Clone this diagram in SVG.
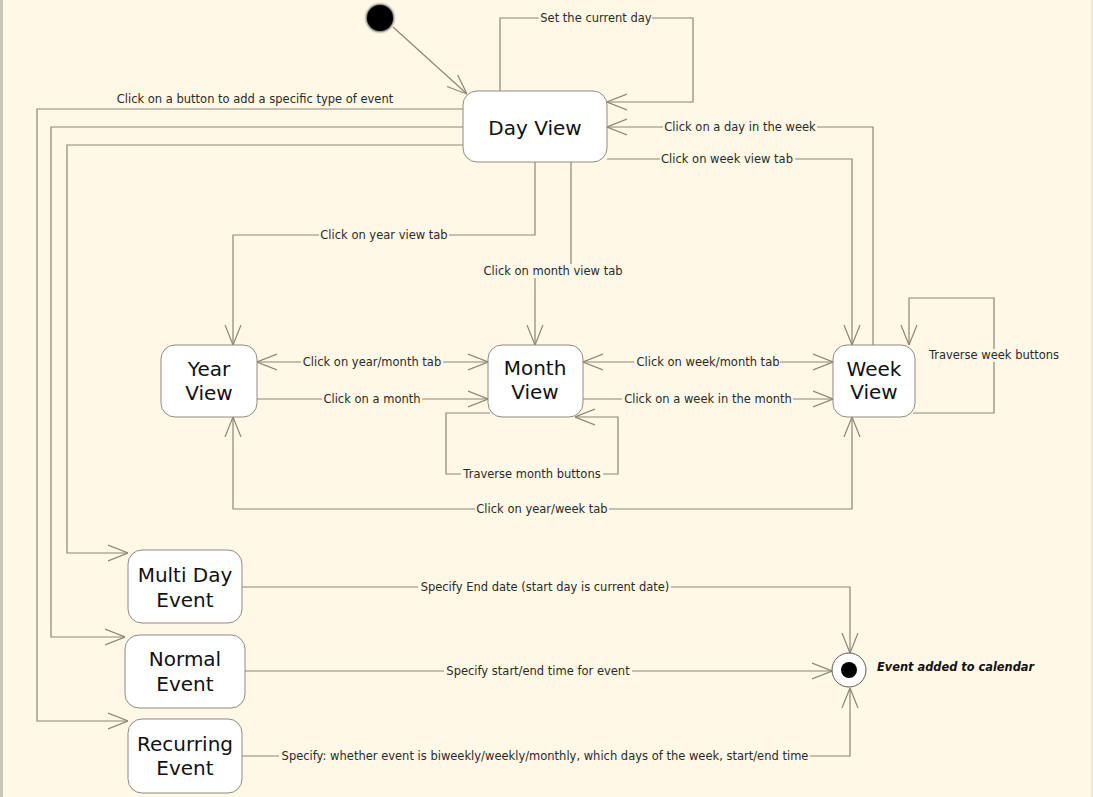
<svg xmlns="http://www.w3.org/2000/svg" width="1093" height="797" viewBox="0 0 1093 797">
<style>
.bg{fill:#FFF8E6}
.node rect{fill:#FFFFFF;stroke:#8E8A80;stroke-width:1}
.ntext{font-family:"DejaVu Sans",Verdana,sans-serif;font-size:20px;fill:#111;text-anchor:middle}
.edge{fill:none;stroke:#8E8675;stroke-width:1.2}
.lb{fill:#FFF8E6}
.lbl{font-family:"DejaVu Sans",Verdana,sans-serif;font-size:11.5px;fill:#2a2a2a;text-anchor:middle}
.final{font-family:"DejaVu Sans",Verdana,sans-serif;font-size:11.4px;font-weight:bold;font-style:italic;fill:#111}
</style>
<defs>
<marker id="arr" viewBox="0 0 20 20" refX="20" refY="10" markerWidth="20" markerHeight="20" markerUnits="userSpaceOnUse" orient="auto-start-reverse">
<path d="M0,2 L20,10 L0,18" fill="none" stroke="#8E8675" stroke-width="1.2"/>
</marker>
<filter id="blur" x="-50%" y="-50%" width="200%" height="200%"><feGaussianBlur stdDeviation="1.2"/></filter>
</defs>
<rect class="bg" x="0" y="0" width="1093" height="797"/>
<rect x="0" y="0" width="3" height="797" fill="#C9C7B8"/>
<rect x="1091" y="0" width="2" height="797" fill="#ECE8DA"/>

<g id="connectors">
<path class="edge" d="M393,27 L467,94" marker-end="url(#arr)"/>
<path class="edge" d="M500,91 L500,18 L693,18 L693,102 L607,102" marker-end="url(#arr)"/>
<rect class="lb" x="539" y="12" width="113" height="13"/>
<text class="lbl" x="596" y="22">Set the current day</text>
<path class="edge" d="M463,109 L37,109 L37,721 L128,721" marker-end="url(#arr)"/>
<text class="lbl" x="255" y="103">Click on a button to add a specific type of event</text>
<path class="edge" d="M463,127 L51,127 L51,637 L125,637" marker-end="url(#arr)"/>
<path class="edge" d="M463,145 L67,145 L67,553 L128,553" marker-end="url(#arr)"/>
<path class="edge" d="M873,345 L873,127 L607,127" marker-end="url(#arr)"/>
<rect class="lb" x="663" y="121" width="154" height="13"/>
<text class="lbl" x="740" y="131">Click on a day in the week</text>
<path class="edge" d="M607,159 L852,159 L852,345" marker-end="url(#arr)"/>
<rect class="lb" x="660" y="153" width="135" height="13"/>
<text class="lbl" x="727" y="163">Click on week view tab</text>
<path class="edge" d="M535,162 L535,235 L233,235 L233,345" marker-end="url(#arr)"/>
<rect class="lb" x="319" y="229" width="130" height="13"/>
<text class="lbl" x="384" y="239">Click on year view tab</text>
<path class="edge" d="M571,162 L571,271 L535,271 L535,345" marker-end="url(#arr)"/>
<rect class="lb" x="481" y="264" width="144" height="14"/>
<text class="lbl" x="553" y="275">Click on month view tab</text>
<path class="edge" d="M257,362 L488,362" marker-start="url(#arr)" marker-end="url(#arr)"/>
<rect class="lb" x="301" y="356" width="142" height="13"/>
<text class="lbl" x="372" y="366">Click on year/month tab</text>
<path class="edge" d="M257,399 L488,399" marker-end="url(#arr)"/>
<rect class="lb" x="322" y="393" width="100" height="13"/>
<text class="lbl" x="372" y="403">Click on a month</text>
<path class="edge" d="M583,362 L833,362" marker-start="url(#arr)" marker-end="url(#arr)"/>
<rect class="lb" x="634" y="356" width="146" height="13"/>
<text class="lbl" x="708" y="366">Click on week/month tab</text>
<path class="edge" d="M583,399 L833,399" marker-end="url(#arr)"/>
<rect class="lb" x="622" y="393" width="171" height="13"/>
<text class="lbl" x="708" y="403">Click on a week in the month</text>
<path class="edge" d="M490,413 L446,413 L446,474 L618,474 L618,417 L575,417" marker-end="url(#arr)"/>
<rect class="lb" x="461" y="468" width="142" height="13"/>
<text class="lbl" x="532" y="478">Traverse month buttons</text>
<path class="edge" d="M913,413 L994,413 L994,298 L909,298 L909,345" marker-end="url(#arr)"/>
<rect class="lb" x="925" y="349" width="137" height="13"/>
<text class="lbl" x="994" y="359">Traverse week buttons</text>
<path class="edge" d="M233,417 L233,509 L852,509 L852,417" marker-start="url(#arr)" marker-end="url(#arr)"/>
<rect class="lb" x="475" y="503" width="134" height="13"/>
<text class="lbl" x="542" y="513">Click on year/week tab</text>
<path class="edge" d="M242,587 L850,587 L850,653" marker-end="url(#arr)"/>
<rect class="lb" x="418" y="581" width="253" height="13"/>
<text class="lbl" x="545" y="591">Specify End date (start day is current date)</text>
<path class="edge" d="M245,671 L832,671" marker-end="url(#arr)"/>
<rect class="lb" x="444" y="665" width="188" height="13"/>
<text class="lbl" x="538" y="675">Specify start/end time for event</text>
<path class="edge" d="M242,756 L850,756 L850,688" marker-end="url(#arr)"/>
<rect class="lb" x="279" y="750" width="531" height="13"/>
<text class="lbl" x="545" y="760">Specify: whether event is biweekly/weekly/monthly, which days of the week, start/end time</text>
</g>

<g id="initial">
<circle cx="380" cy="18" r="14" fill="#555" filter="url(#blur)"/>
<circle cx="380" cy="18" r="13" fill="#000"/>
</g>

<g id="final">
<circle cx="849" cy="670" r="17" fill="#FFFFFF" stroke="#5a5a50" stroke-width="1"/>
<circle cx="849" cy="670" r="8" fill="#000"/>
<text class="final" x="877" y="671">Event added to calendar</text>
</g>

<g id="dayview" class="node">
<rect x="463" y="91" width="144" height="71" rx="14"/>
<text class="ntext" x="535" y="135">Day View</text>
</g>
<g id="yearview" class="node">
<rect x="161" y="345" width="96" height="72" rx="14"/>
<text class="ntext" x="209" y="376">Year</text>
<text class="ntext" x="209" y="400">View</text>
</g>
<g id="monthview" class="node">
<rect x="488" y="345" width="95" height="72" rx="14"/>
<text class="ntext" x="535" y="375">Month</text>
<text class="ntext" x="535" y="399">View</text>
</g>
<g id="weekview" class="node">
<rect x="833" y="345" width="82" height="72" rx="14"/>
<text class="ntext" x="874" y="376">Week</text>
<text class="ntext" x="874" y="399">View</text>
</g>
<g id="multiday" class="node">
<rect x="128" y="550" width="114" height="73" rx="14"/>
<text class="ntext" x="185" y="582">Multi Day</text>
<text class="ntext" x="185" y="607">Event</text>
</g>
<g id="normal" class="node">
<rect x="125" y="635" width="120" height="73" rx="14"/>
<text class="ntext" x="185" y="666">Normal</text>
<text class="ntext" x="185" y="691">Event</text>
</g>
<g id="recurring" class="node">
<rect x="128" y="719" width="114" height="74" rx="14"/>
<text class="ntext" x="185" y="751">Recurring</text>
<text class="ntext" x="185" y="775">Event</text>
</g>
</svg>
